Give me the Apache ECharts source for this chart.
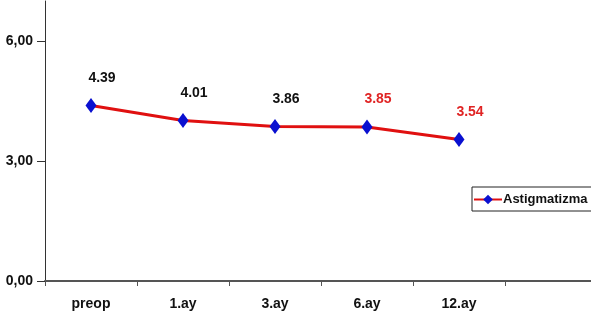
<!DOCTYPE html>
<html>
<head>
<meta charset="utf-8">
<script src="https://cdn.jsdelivr.net/npm/echarts@6/dist/echarts.min.js"></script>
<style>
  html, body { margin: 0; padding: 0; background: #fff; }
  #chart { width: 591px; height: 324px; }
</style>
</head>
<body>
<div id="chart"></div>
<script>
// Astigmatism follow-up: mean values by visit
const categories = ['preop', '1.ay', '3.ay', '6.ay', '12.ay', ''];
const astigmatizma = [4.39, 4.01, 3.86, 3.85, 3.54];
const yTickLabels = [0, 3, 6];
const labelColors = ['#111111', '#111111', '#111111', '#e02424', '#e02424'];

const FONT = "'Liberation Sans', Arial, sans-serif";

const chart = echarts.init(document.getElementById('chart'), null, { renderer: 'canvas' });

chart.setOption({
  animation: false,
  backgroundColor: '#ffffff',
  grid: { left: 45, top: 1, right: -6, bottom: 43, containLabel: false, outerBoundsMode: 'none' },
  xAxis: {
    type: 'category',
    data: categories,
    boundaryGap: true,
    axisLine: { lineStyle: { color: '#555555', width: 2 } },
    axisTick: { show: true, length: 5, lineStyle: { color: '#555555', width: 1 } },
    axisLabel: { color: '#111111', fontFamily: FONT, fontWeight: 'bold', fontSize: 14, margin: 16 }
  },
  yAxis: {
    type: 'value',
    min: 0,
    max: 7,
    interval: 1,
    splitLine: { show: false },
    axisLine: { show: true, lineStyle: { color: '#333333', width: 1 } },
    axisTick: { show: true, length: 8, customValues: yTickLabels, lineStyle: { color: '#333333' } },
    axisLabel: {
      customValues: yTickLabels,
      color: '#111111', fontFamily: FONT, fontWeight: 'bold', fontSize: 14, margin: 12,
      formatter: v => v.toFixed(2).replace('.', ',')
    }
  },
  legend: {
    left: 472,
    top: 187,
    padding: [6, 5, 5, 1],
    borderColor: '#222222',
    borderWidth: 1,
    itemWidth: 28,
    itemHeight: 12,
    itemGap: 4,
    textStyle: { color: '#111111', fontFamily: FONT, fontWeight: 'bold', fontSize: 13, padding: [0, 0, 0, -4] },
    data: ['Astigmatizma']
  },
  series: [{
    name: 'Astigmatizma',
    type: 'line',
    data: astigmatizma.map((v, i) => ({
      value: v,
      label: { color: labelColors[i] }
    })),
    lineStyle: { color: '#e01010', width: 3 },
    itemStyle: { color: '#0a10d0' },
    symbol: 'diamond',
    symbolSize: [11, 15],
    showAllSymbol: true,
    label: {
      show: true,
      position: 'top',
      distance: 4,
      offset: [11, -9],
      fontFamily: FONT,
      fontWeight: 'bold',
      fontSize: 14,
      formatter: p => p.value.toFixed(2)
    }
  }]
});
</script>
</body>
</html>
